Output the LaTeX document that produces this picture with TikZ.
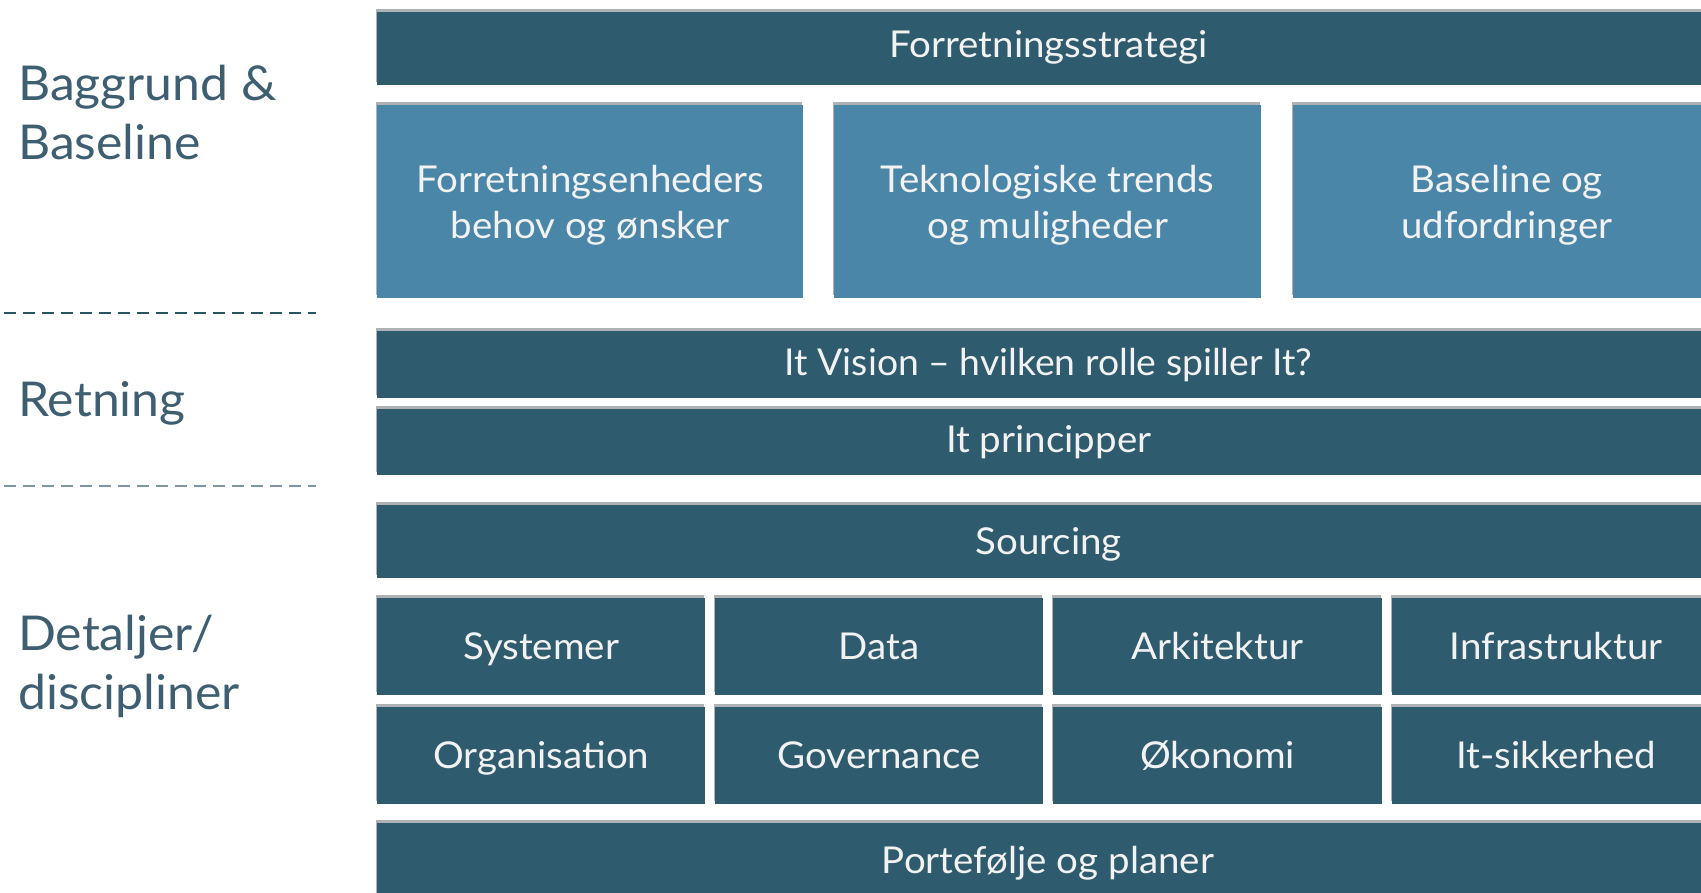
\documentclass[tikz,border=0pt]{standalone}
\usepackage{fontspec}
\setmainfont{Lato}[FakeStretch=1.04]
\usetikzlibrary{shadows}
\definecolor{darkbar}{RGB}{47,91,111}
\definecolor{lightbox}{RGB}{74,134,168}
\definecolor{boxtext}{RGB}{242,242,242}
\definecolor{labeltext}{RGB}{62,94,114}
\definecolor{shadowgray}{RGB}{175,178,180}
\definecolor{dashone}{RGB}{40,85,100}
\definecolor{dashtwo}{RGB}{125,150,163}
\begin{document}
\begin{tikzpicture}[x=1pt,y=-1pt,
  blk/.style={rectangle, anchor=north west, inner sep=0pt, text=boxtext,
    font=\fontsize{37}{46}\selectfont, align=center, text depth=0pt,
    drop shadow={shadow xshift=-1.5pt, shadow yshift=3pt, fill=shadowgray, opacity=1}},
  darkblk/.style={blk, fill=darkbar, text height=26.5pt},
  lightblk/.style={blk, fill=lightbox},
  sidelabel/.style={anchor=base west, inner sep=0pt, align=left, text=labeltext,
    font=\fontsize{48}{59}\selectfont},
  sep/.style={line width=2.6pt, dash pattern=on 12pt off 7pt}]
\useasboundingbox (0,0) rectangle (1701,893);
\clip (0,0) rectangle (1701,893);

% left labels
\node[sidelabel] (lab1) at (18,160) {Baggrund \&\\Baseline};
\node[sidelabel] (lab2) at (18,417) {Retning};
\node[sidelabel] (lab3) at (18,709) {Detaljer/\\discipliner};

% separators
\coordinate (s1a) at (4,313); \coordinate (s1b) at (316,313);
\coordinate (s2a) at (4,486); \coordinate (s2b) at (316,486);
\draw[sep, draw=dashone] (s1a) -- (s1b);
\draw[sep, draw=dashtwo] (s2a) -- (s2b);

% top bar
\node[darkblk, text depth=9pt, minimum width=1343pt, minimum height=73pt] (strat) at (377,12) {Forretningsstrategi};

% three light boxes
\node[lightblk, minimum width=426pt, minimum height=193pt] (behov) at (377,105) {Forretningsenheders\\behov og ønsker};
\node[lightblk, minimum width=427pt, minimum height=193pt] (trends) at (834,105) {Teknologiske trends\\og muligheder};
\node[lightblk, minimum width=427pt, minimum height=193pt] (base) at (1293,105) {Baseline og\\udfordringer};

% direction bars
\node[darkblk, text depth=5pt, minimum width=1343pt, minimum height=67pt] (vision) at (377,331) {\scalebox{0.97}[1]{It Vision – hvilken rolle spiller It?}};
\node[darkblk, text depth=5pt, minimum width=1343pt, minimum height=66pt] (princ) at (377,409) {It principper};

% sourcing
\node[darkblk, minimum width=1343pt, minimum height=73pt] (sourcing) at (377,505) {Sourcing};

% disciplines row 1
\node[darkblk, minimum width=328pt, minimum height=97pt] (sys) at (377,598) {Systemer};
\node[darkblk, minimum width=328pt, minimum height=97pt] (data) at (715,598) {Data};
\node[darkblk, minimum width=329pt, minimum height=97pt] (ark) at (1053,598) {Arkitektur};
\node[darkblk, minimum width=328pt, minimum height=97pt] (infra) at (1392,598) {Infrastruktur};

% disciplines row 2
\node[darkblk, minimum width=328pt, minimum height=97pt] (org) at (377,707) {Organisation};
\node[darkblk, minimum width=328pt, minimum height=97pt] (gov) at (715,707) {Governance};
\node[darkblk, minimum width=329pt, minimum height=97pt] (oko) at (1053,707) {Økonomi};
\node[darkblk, minimum width=328pt, minimum height=97pt] (sik) at (1392,707) {It-sikkerhed};

% portfolio
\node[darkblk, minimum width=1343pt, minimum height=100pt] (port) at (377,823) {};
\node[anchor=center, inner sep=0pt, text=boxtext, text height=26.5pt, text depth=0pt,
  font=\fontsize{37}{46}\selectfont] (portlbl) at (1048,860) {Portefølje og planer};
\end{tikzpicture}
\end{document}
